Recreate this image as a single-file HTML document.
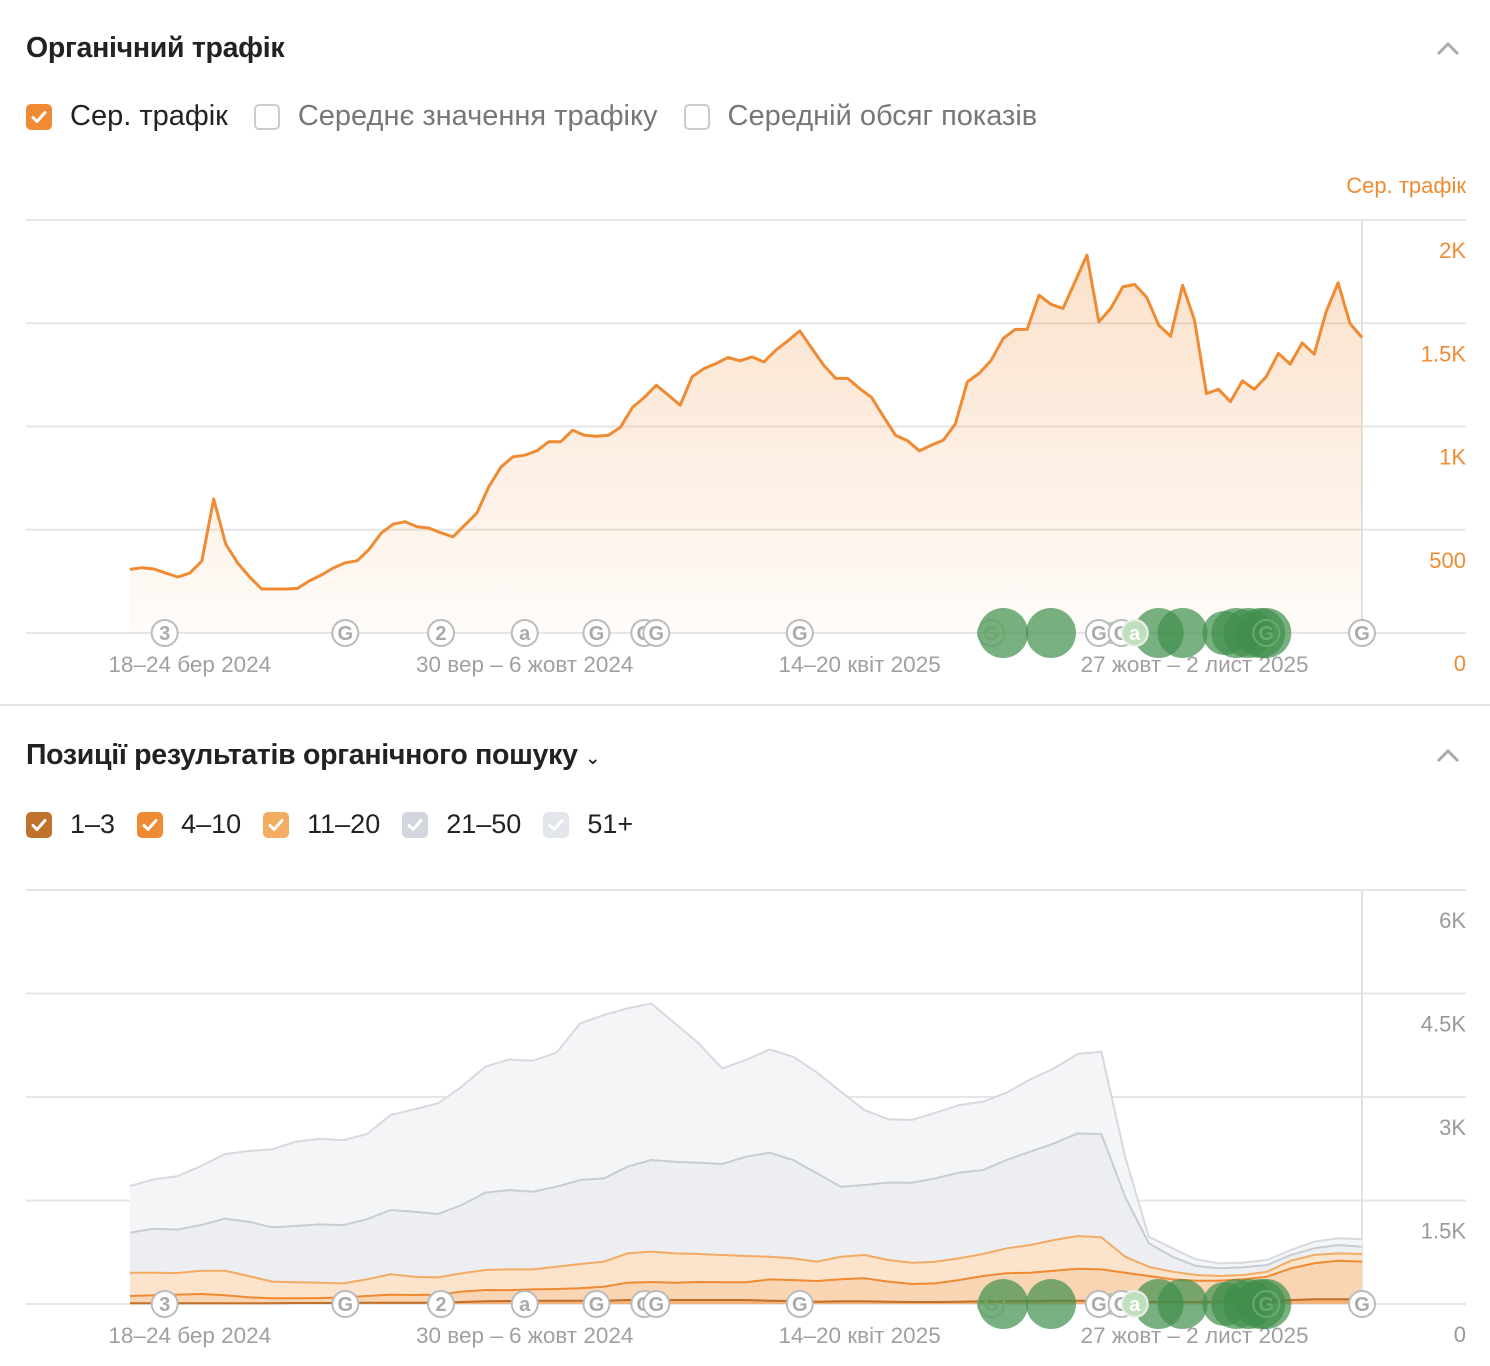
<!DOCTYPE html>
<html><head><meta charset="utf-8">
<style>
body{margin:0;background:#fff;font-family:"Liberation Sans","DejaVu Sans",sans-serif;}
#wrap{position:relative;width:1490px;height:1366px;overflow:hidden;}
.title{position:absolute;left:26px;font-size:28.5px;font-weight:bold;color:#222;letter-spacing:-0.3px;}
.legend{position:absolute;left:26px;display:flex;align-items:center;font-size:27px;}
.cb{width:26px;height:26px;border-radius:5px;box-sizing:border-box;display:inline-flex;align-items:center;justify-content:center;margin-right:18px;flex:none;}
.cb svg{width:18px;height:18px}
.item{display:flex;align-items:center;margin-right:26px;}
#leg2 .item{margin-right:22px;}
svg text{font-family:"Liberation Sans","DejaVu Sans",sans-serif;}
</style></head>
<body>
<div id="wrap">
<div class="title" style="top:32px">Органічний трафік</div>
<div class="legend" style="top:100px;font-size:29px">
  <div class="item"><span class="cb" style="background:#ef8b33"><svg viewBox="0 0 18 18"><path d="M3 9.5l4 4 8-9" stroke="#fff" stroke-width="3" fill="none" stroke-linecap="round" stroke-linejoin="round"/></svg></span><span style="color:#222">Сер. трафік</span></div>
  <div class="item"><span class="cb" style="border:2px solid #ccc"></span><span style="color:#777">Середнє значення трафіку</span></div>
  <div class="item"><span class="cb" style="border:2px solid #ccc"></span><span style="color:#777">Середній обсяг показів</span></div>
</div>
<div class="title" style="top:739px">Позиції результатів органічного пошуку <span style="font-size:18px">&#8964;</span></div>
<div class="legend" id="leg2" style="top:809px">
  <div class="item"><span class="cb" style="background:#c0712c"><svg viewBox="0 0 18 18"><path d="M3 9.5l4 4 8-9" stroke="#fff" stroke-width="3" fill="none" stroke-linecap="round" stroke-linejoin="round"/></svg></span><span style="color:#222">1–3</span></div>
  <div class="item"><span class="cb" style="background:#ef8b33"><svg viewBox="0 0 18 18"><path d="M3 9.5l4 4 8-9" stroke="#fff" stroke-width="3" fill="none" stroke-linecap="round" stroke-linejoin="round"/></svg></span><span style="color:#222">4–10</span></div>
  <div class="item"><span class="cb" style="background:#f4ac62"><svg viewBox="0 0 18 18"><path d="M3 9.5l4 4 8-9" stroke="#fff" stroke-width="3" fill="none" stroke-linecap="round" stroke-linejoin="round"/></svg></span><span style="color:#222">11–20</span></div>
  <div class="item"><span class="cb" style="background:#d2d6de"><svg viewBox="0 0 18 18"><path d="M3 9.5l4 4 8-9" stroke="#fff" stroke-width="3" fill="none" stroke-linecap="round" stroke-linejoin="round"/></svg></span><span style="color:#222">21–50</span></div>
  <div class="item"><span class="cb" style="background:#e3e6eb"><svg viewBox="0 0 18 18"><path d="M3 9.5l4 4 8-9" stroke="#fff" stroke-width="3" fill="none" stroke-linecap="round" stroke-linejoin="round"/></svg></span><span style="color:#222">51+</span></div>
</div>
<svg id="chart" width="1490" height="1366" style="position:absolute;left:0;top:0" xmlns="http://www.w3.org/2000/svg">
<defs>
<linearGradient id="tg" x1="0" y1="0" x2="0" y2="1"><stop offset="0" stop-color="#ef8b33" stop-opacity="0.26"/><stop offset="1" stop-color="#ef8b33" stop-opacity="0.03"/></linearGradient>
</defs>
<path d="M1438 54 L1448 44 L1458 54" stroke="#aaa" stroke-width="3" fill="none"/>
<path d="M1438 761 L1448 751 L1458 761" stroke="#aaa" stroke-width="3" fill="none"/>
<line x1="0" y1="705" x2="1490" y2="705" stroke="#e4e4e4" stroke-width="2"/>
<text x="1466" y="193" text-anchor="end" font-size="22" fill="#ef8b33">Сер. трафік</text>
<g id="g1"></g><g id="g2"></g>
</svg>
</div>
<script>
// ---- Traffic chart data (weekly) ----
const traffic = [308,316,310,290,271,290,348,649,431,339,271,213,213,213,216,253,281,315,340,350,406,484,527,539,515,508,485,466,523,581,708,803,853,861,882,926,926,982,958,953,958,996,1092,1141,1200,1152,1103,1241,1281,1305,1334,1318,
1337,1313,1370,1415,1463,1378,1297,1233,1233,1184,1141,1047,958,931,882,910,934,1012,1216,1257,1321,1426,1470,1470,1636,1592,1572,1700,1830,1507,1572,1676,1688,1625,1491,1437,1684,1515,1160,1180,1120,1221,1180,1241,1354,1302,1405,1350,1555,1696,1499,1431];
const trafficTicks = [0,500,1000,1500,2000];
const trafficTickLabels = ["0","500","1K","1.5K","2K"];
// ---- Positions chart data (bi-weekly) ----
const pos1_3 = [10,10,10,10,10,10,10,14,14,14,19,19,19,19,29,39,43,48,48,48,48,58,58,58,58,58,58,48,43,34,39,39,34,29,29,34,39,39,43,48,48,48,39,34,29,29,34,39,43,58,68,68,68];
const pos4_10 = [106,116,126,135,116,87,72,68,72,82,97,116,111,116,150,164,159,164,169,179,203,251,261,251,261,256,256,309,304,299,319,333,290,261,270,314,367,406,411,435,464,454,415,372,328,309,304,319,353,459,522,560,546];
const pos11_20 = [338,328,314,338,357,309,242,232,222,203,242,295,266,251,266,290,299,290,324,353,362,425,440,425,406,396,382,328,314,280,328,338,314,309,314,314,319,362,401,444,473,464,232,135,111,82,68,63,72,111,121,106,111];
const pos21_50 = [580,638,628,662,753,787,787,816,845,845,869,932,942,918,990,1121,1150,1125,1159,1217,1208,1256,1328,1328,1323,1319,1439,1507,1425,1280,1014,1014,1121,1159,1208,1241,1217,1280,1352,1401,1488,1497,869,338,217,130,111,111,97,82,97,121,106];
const pos51 = [676,715,773,855,937,1024,1130,1222,1241,1232,1236,1377,1483,1604,1715,1826,1893,1898,1942,2270,2367,2294,2270,2004,1729,1386,1401,1497,1497,1459,1377,1087,918,908,952,980,990,976,1048,1087,1150,1193,580,97,121,97,72,68,72,72,97,97,106];
const posTicks = [0,1500,3000,4500,6000];
const posTickLabels = ["0","1.5K","3K","4.5K","6K"];
// ---- Shared x axis / events (week index) ----
const dateLabels = ["18–24 бер 2024","30 вер – 6 жовт 2024","14–20 квіт 2025","27 жовт – 2 лист 2025"];
const dateLabelWeeks = [5,33,61,89];
const eventWeeks = [2.9,18,26,33,39,43,44,56,72,81,82.9,84,95,103];
const eventLabels = ["3","G","2","a","G","G","G","G","G","G","G","a","G","G"];
const updateWeeks = [73,77,82,86,88,91.5,92.5,93.5,94.5,95];
const updateSizes = [25,25,11,25,25,22,25,25,25,25];
const NW = 103;

const SVGNS="http://www.w3.org/2000/svg";
const X0=130,X1=1362;
function xw(w){return X0+(X1-X0)*w/NW;}
function mk(tag,attrs,parent){const e=document.createElementNS(SVGNS,tag);for(const k in attrs)e.setAttribute(k,attrs[k]);parent.appendChild(e);return e;}

function axes(g,base,top,ticks,labels,scale,color,name){
  ticks.forEach((t,i)=>{
    const y=scale(t);
    const ln=mk('line',{x1:26,x2:1466,y1:y,y2:y,stroke:'#e6e6e6','stroke-width':2},g);
    
    
    const tx=mk('text',{x:1466,y:y+38,'text-anchor':'end','font-size':22,fill:color},g);
    tx.textContent=labels[i];
    
    
  });
  const v=mk('line',{x1:X1,x2:X1,y1:top,y2:base,stroke:'#e3e3e3','stroke-width':2},g);
  
  
  dateLabels.forEach((d,i)=>{
    const tx=mk('text',{x:xw(dateLabelWeeks[i]),y:base+39,'text-anchor':'middle','font-size':22.5,fill:'#a0a0a0'},g);
    tx.textContent=d;
    
    
  });
}
function events(g,base,name){
  updateWeeks.forEach((w,i)=>{
    const c=mk('circle',{cx:xw(w),cy:base,r:updateSizes[i],fill:i==2?'#8cc48a':'#3e8e4c','fill-opacity':0.7},g);
    
    
  });
  eventWeeks.forEach((w,i)=>{
    const green = w>=72 && w<=95 && eventLabels[i]!=='G' || (w==72||w==95);
    const c=mk('circle',{cx:xw(w),cy:base,r:13,fill:green?'none':'#fff',stroke:green?'#6aa870':'#bbb','stroke-width':2},g);
    if(eventLabels[i]==='a'&&w>80){c.setAttribute('fill','#bfe0bc');c.setAttribute('stroke','#eee');}
    
    
    const t=mk('text',{x:xw(w),y:base+7,'text-anchor':'middle','font-size':20,'font-weight':'bold',fill:green?'#6aa870':'#aaa'},g);
    if(eventLabels[i]==='a'&&w>80)t.setAttribute('fill','#fff');
    t.textContent=eventLabels[i];
    
    
  });
}

// Chart 1
const g1=document.getElementById('g1');
const y1=v=>633-v*(413/2000);
axes(g1,633,220,trafficTicks,trafficTickLabels,y1,'#ef8b33','traffic');
let d='M'+traffic.map((v,i)=>xw(i).toFixed(1)+','+y1(v).toFixed(1)).join(' L');
const area=mk('path',{d:d+' L'+xw(NW)+',633 L'+X0+',633 Z',fill:'url(#tg)'},g1);


const line=mk('path',{d:d,fill:'none',stroke:'#ef8b33','stroke-width':3,'stroke-linejoin':'round'},g1);


events(g1,633,'traffic');

// Chart 2
const g2=document.getElementById('g2');
const y2=v=>1304-v*(414/6000);
axes(g2,1304,890,posTicks,posTickLabels,y2,'#999','positions');
const series=[pos1_3,pos4_10,pos11_20,pos21_50,pos51];
const fills=['#f3b27a','#f9d5b3','#fbe3cc','#eceef2','#f4f5f7'];
const strokes=['#c0702a','#ee8a32','#f3ab63','#c8ccd3','#d6d9df'];
const names=['series-1-3','series-4-10','series-11-20','series-21-50','series-51-plus'];
const nP=pos51.length;
const xp=i=>xw(i*NW/(nP-1));
let cum=new Array(nP).fill(0);
const layers=[];
series.forEach((s,k)=>{
  const lo=cum.slice();
  cum=cum.map((c,i)=>c+s[i]);
  layers.push({lo:lo,hi:cum.slice()});
});
for(let k=series.length-1;k>=0;k--){
  const L=layers[k];
  const top=L.hi.map((v,i)=>xp(i).toFixed(1)+','+y2(v).toFixed(1));
  const bot=L.lo.map((v,i)=>xp(i).toFixed(1)+','+y2(v).toFixed(1)).reverse();
  const a=mk('path',{d:'M'+top.join(' L')+' L'+bot.join(' L')+' Z',fill:fills[k]},g2);
  
  
}
for(let k=series.length-1;k>=0;k--){
  const top=layers[k].hi.map((v,i)=>xp(i).toFixed(1)+','+y2(v).toFixed(1));
  const l=mk('path',{d:'M'+top.join(' L'),fill:'none',stroke:strokes[k],'stroke-width':2},g2);
  
  
}
events(g2,1304,'positions');
</script>
</body></html>
